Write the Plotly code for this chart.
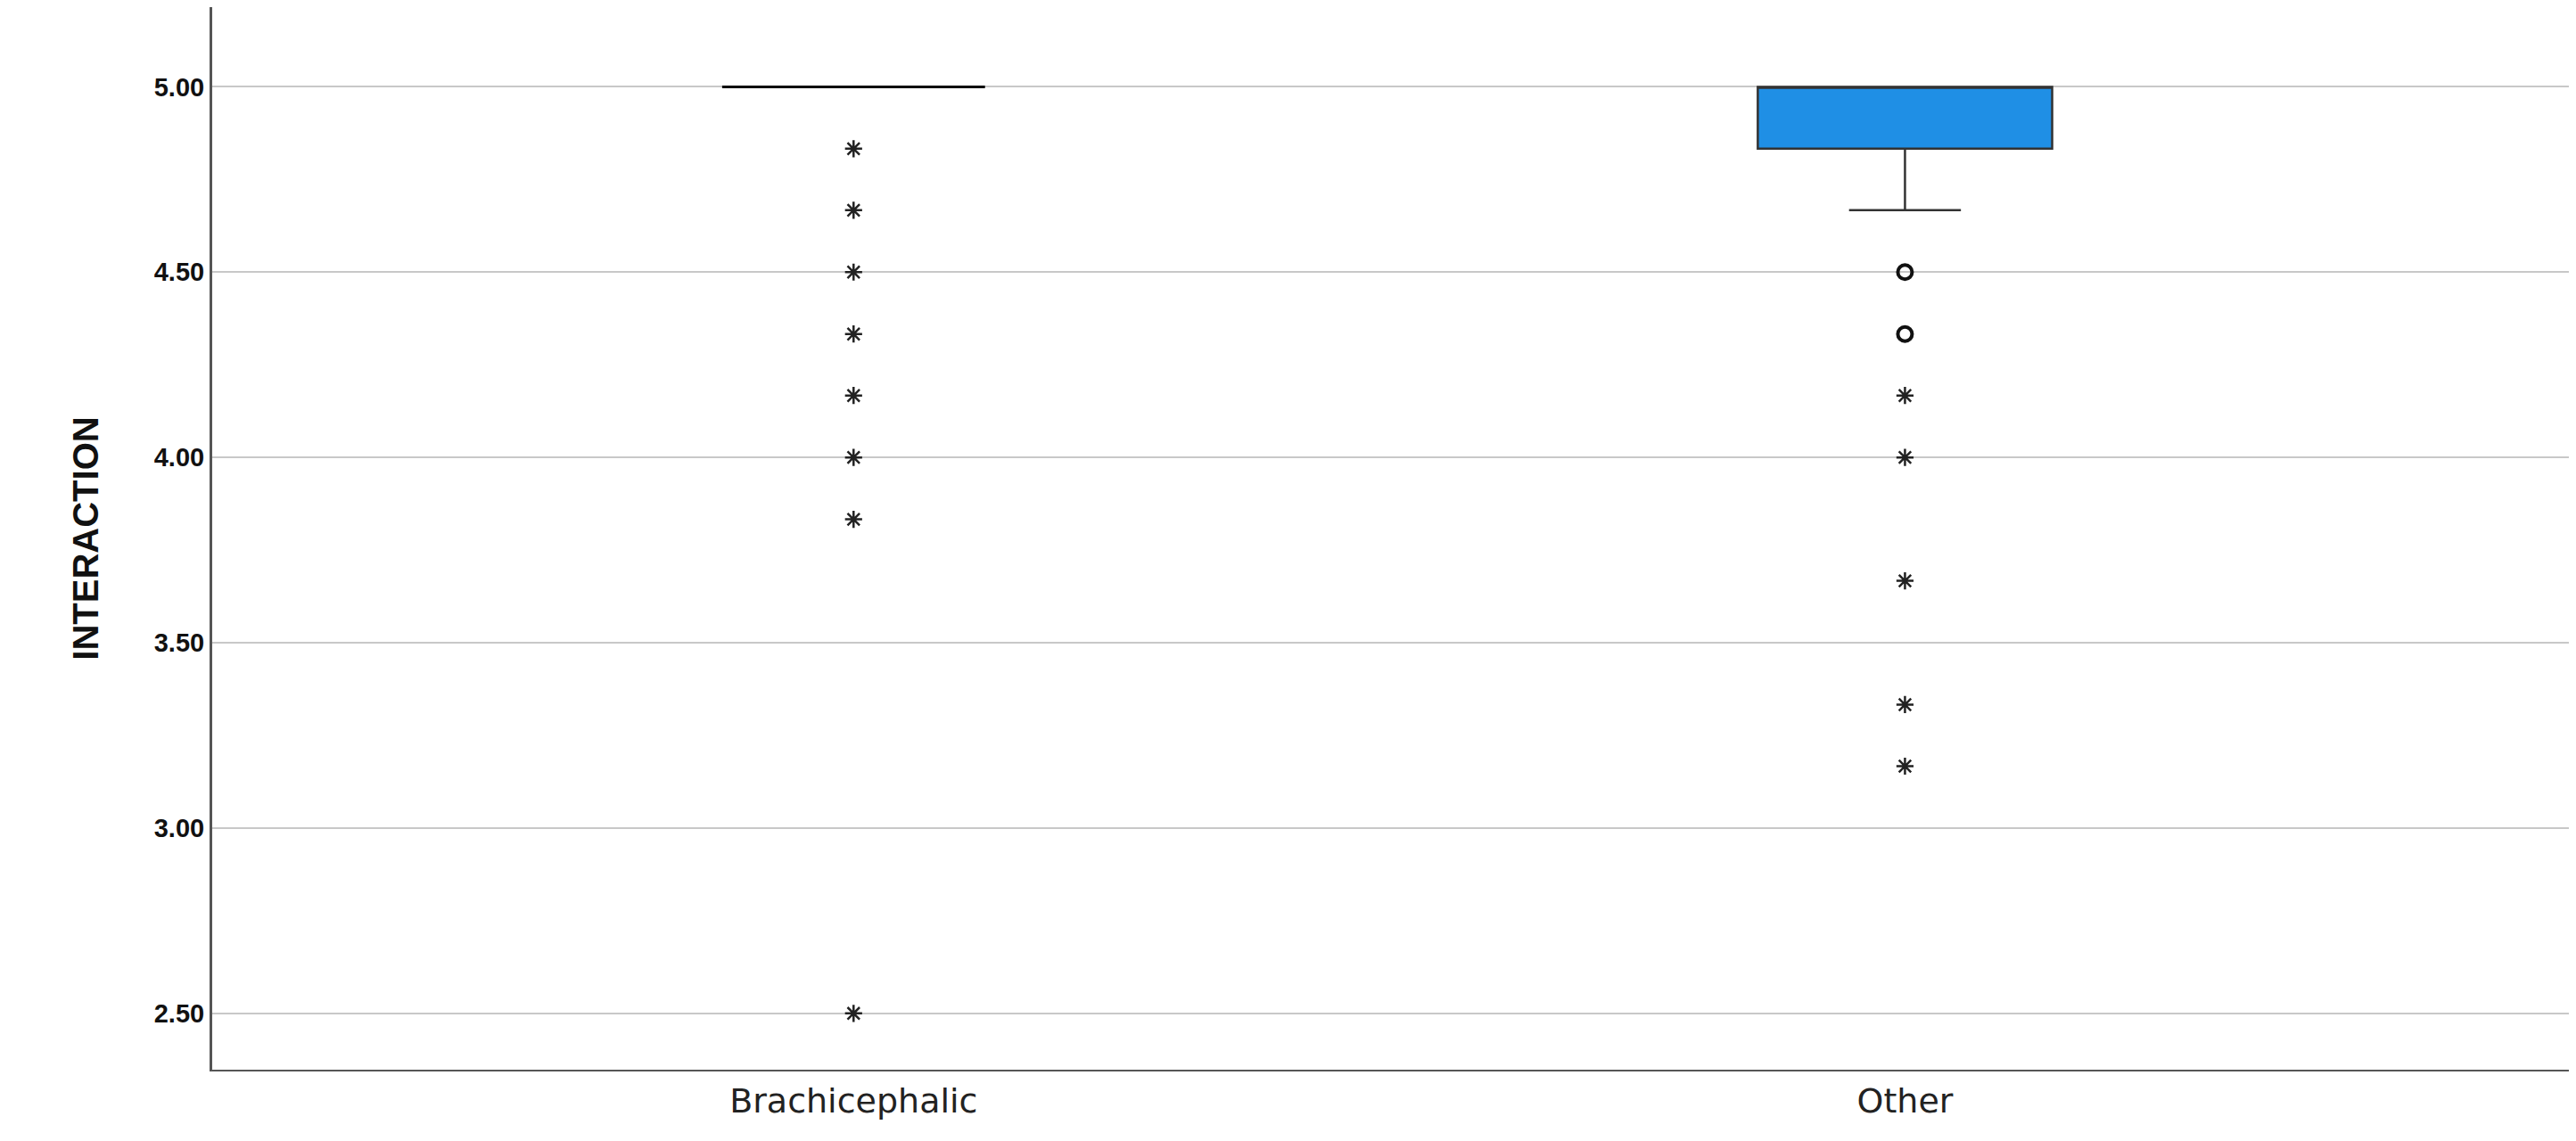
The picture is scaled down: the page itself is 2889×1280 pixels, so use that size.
import plotly.graph_objects as go

categories = ["Brachicephalic", "Other"]
q1 = [5.0, 4.833]
median = [5.0, 5.0]
q3 = [5.0, 5.0]
lowerfence = [5.0, 4.667]
upperfence = [5.0, 5.0]
brachy_extreme = [4.833, 4.667, 4.5, 4.333, 4.167, 4.0, 3.833, 2.5]
other_outlier = [4.5, 4.333]
other_extreme = [4.167, 4.0, 3.667, 3.333, 3.167]
yticks = [2.5, 3.0, 3.5, 4.0, 4.5, 5.0]

fig = go.Figure()
fig.add_trace(go.Box(x=[0], q1=[q1[0]], median=[median[0]], q3=[q3[0]],
                     lowerfence=[lowerfence[0]], upperfence=[upperfence[0]],
                     width=0.25, fillcolor="#1F8FE5", line=dict(color="black", width=3),
                     whiskerwidth=0.38, boxpoints=False, showlegend=False))
fig.add_trace(go.Box(x=[1], q1=[q1[1]], median=[median[1]], q3=[q3[1]],
                     lowerfence=[lowerfence[1]], upperfence=[upperfence[1]],
                     width=0.28, fillcolor="#1F8FE5", line=dict(color="#333333", width=2.5),
                     whiskerwidth=0.38, boxpoints=False, showlegend=False))
fig.add_trace(go.Scatter(x=[0]*len(brachy_extreme), y=brachy_extreme, mode="markers",
                         marker=dict(symbol="asterisk-open", size=16, color="#222",
                                     line=dict(width=2.5, color="#222")), showlegend=False))
fig.add_trace(go.Scatter(x=[1]*len(other_extreme), y=other_extreme, mode="markers",
                         marker=dict(symbol="asterisk-open", size=16, color="#222",
                                     line=dict(width=2.5, color="#222")), showlegend=False))
fig.add_trace(go.Scatter(x=[1]*len(other_outlier), y=other_outlier, mode="markers",
                         marker=dict(symbol="circle-open", size=16, color="#111",
                                     line=dict(width=4, color="#111")), showlegend=False))

fig.update_layout(
    width=2889, height=1280, plot_bgcolor="white", paper_bgcolor="white",
    margin=dict(l=230, r=0, t=0, b=88),
    xaxis=dict(range=[-0.61, 1.645], tickvals=[0, 1], ticktext=categories,
               showgrid=False, zeroline=False, showline=True, linecolor="#555", linewidth=2,
               ticks="", tickfont=dict(family="DejaVu Sans", size=38, color="#222")),
    yaxis=dict(range=[2.348, 5.215], tickvals=yticks, ticktext=[f"<b>{v:.2f}</b>" for v in yticks],
               showgrid=True, gridcolor="#c8c8c8", gridwidth=2, zeroline=False,
               showline=True, linecolor="#555", linewidth=3, ticks="",
               tickfont=dict(family="Liberation Sans", size=29, color="#111"),
               title=dict(text="<b>INTERACTION</b>", standoff=50,
                          font=dict(family="Liberation Sans Narrow, Liberation Sans", size=40, color="#111"))),
)
fig.write_html("out.html")
